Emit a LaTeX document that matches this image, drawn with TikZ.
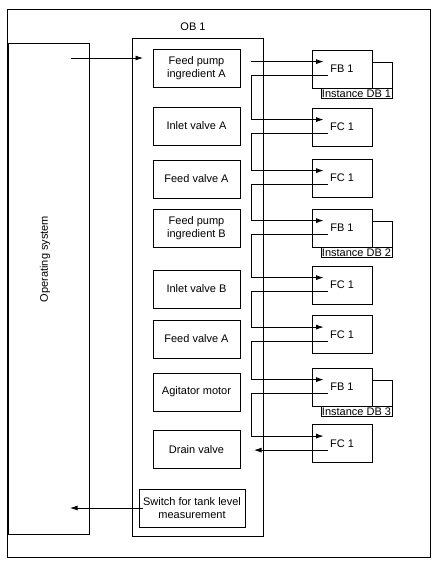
\documentclass[tikz,border=0pt]{standalone}
\usepackage{fontspec}
\setmainfont{Liberation Sans}
\usetikzlibrary{arrows.meta}

\begin{document}
\begin{tikzpicture}[x=1pt, y=-1pt, line width=0.8pt,
    every node/.append style={font=\fontsize{11}{13.5}\selectfont},
    task/.style={draw, minimum width=87pt, minimum height=38pt, align=center, inner sep=0pt},
    block/.style={draw, minimum width=60pt, minimum height=38pt, inner sep=0pt},
    idb/.style={draw, minimum width=71pt, text height=8pt, text depth=1pt, inner sep=0.5pt},
    call/.style={-{Latex[length=7.5pt, width=5pt]}}]
    \useasboundingbox (0,0) rectangle (443,566);
    \draw (7,9) rectangle (430,557);
    \node[draw, minimum width=81pt, minimum height=491pt, inner sep=0pt] (os) at (48.5,288.5) {};
    \node[rotate=90] (oslabel) at (45,259) {Operating system};
    \draw (132,38) rectangle (263,536);
    \node (oblabel) at (193,27) {OB 1};

    \node[task] (pa)    at (196.5,68)  {Feed pump\\ingredient A};
    \node[task] (iva)   at (196.5,126) {Inlet valve A};
    \node[task] (fva)   at (196.5,179) {Feed valve A};
    \node[task] (pb)    at (196.5,228) {Feed pump\\ingredient B};
    \node[task] (ivb)   at (196.5,289) {Inlet valve B};
    \node[task] (fvb)   at (196.5,339) {Feed valve A};
    \node[task] (agit)  at (196.5,392) {Agitator motor};
    \node[task] (drain) at (196.5,449.5) {Drain valve};
    \node[task, minimum width=106pt] (sw) at (192,508) {Switch for tank level\\measurement};

    \node[block] (fb1) at (342,69)    {FB 1};
    \node[block] (fc1) at (342,127)   {FC 1};
    \node[block] (fc2) at (342,178)   {FC 1};
    \node[block] (fb2) at (342,228)   {FB 1};
    \node[block] (fc3) at (342,285)   {FC 1};
    \node[block] (fc4) at (342,334.5) {FC 1};
    \node[block] (fb3) at (342,387)   {FB 1};
    \node[block] (fc5) at (342,443.5) {FC 1};

    \foreach \b/\d in {fb1/1, fb2/2, fb3/3} {
        \node[idb, anchor=north east] (db\d) at ([xshift=20pt]\b.south east) {Instance DB \d};
        \draw ([yshift=7pt]\b.east) -| (db\d.north east);
    }

    \foreach \b in {fb1, fc1, fc2, fb2, fc3, fc4, fb3, fc5} {
        \coordinate (\b-in)  at ([xshift=12pt, yshift=-12pt]\b.north west);
        \coordinate (\b-out) at ([xshift=16pt, yshift=-26pt]\b.north west);
    }
    \coordinate (bus) at (251,0);
    \coordinate (ret) at (254,0);
    \coordinate (os-out) at (71,58);
    \coordinate (ob-in) at (143,58);
    \coordinate (os-in) at (70,0);

    \draw[call] (os-out) -- (ob-in);
    \draw[call] (bus |- fb1-in) -- (fb1-in);
    \foreach \a/\b in {fb1/fc1, fc1/fc2, fc2/fb2, fb2/fc3, fc3/fc4, fc4/fb3, fb3/fc5}
        \draw[call] (\a-out) -- (bus |- \a-out) -- (bus |- \b-in) -- (\b-in);
    \draw[call] (fc5-out) -- (ret |- fc5-out);
    \draw[call] ([xshift=4pt]sw.west) -- (os-in |- sw.west);
\end{tikzpicture}
\end{document}
